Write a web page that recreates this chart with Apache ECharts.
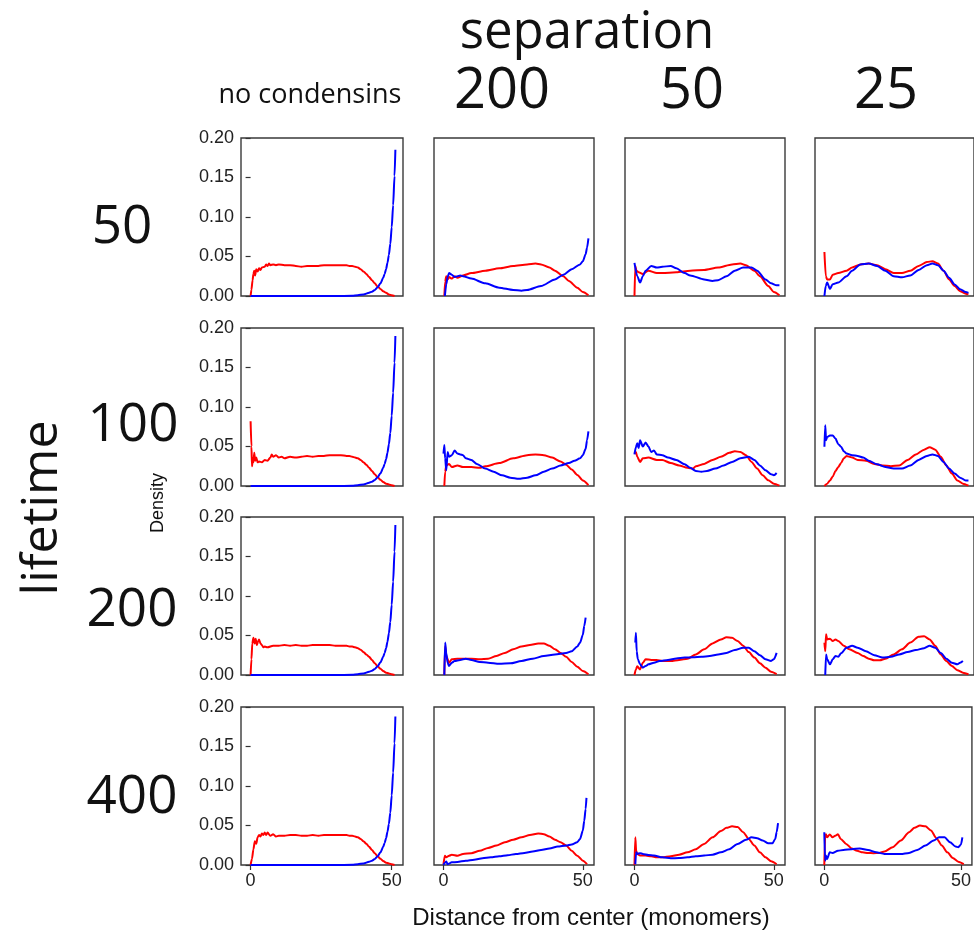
<!DOCTYPE html>
<html>
<head>
<meta charset="utf-8">
<script src="https://cdn.jsdelivr.net/npm/echarts@6/dist/echarts.min.js"></script>
<style>
html,body{margin:0;padding:0;background:#fff;}
#chart{width:974px;height:934px;}
</style>
</head>
<body>
<div id="chart"></div>
<script>
// ---- labels ----
const lifetimes = ['50', '100', '200', '400'];
const separations = ['no condensins', '200', '50', '25'];
const xTicks = [0, 50];
const yTickStep = 0.05;

// ---- data: [distance, density] ----
// lifetime 50
const red_50_none = [[0,0],[0.3,0.008],[0.7,0.02],[1,0.028],[1.3,0.032],[1.6,0.026],[2,0.034],[2.5,0.031],[3,0.035],[3.5,0.033],[4,0.036],[5,0.037],[5.5,0.040],[6,0.038],[6.5,0.041],[7,0.039],[8,0.040],[9,0.039],[10,0.040],[12,0.039],[14,0.039],[16,0.038],[18,0.037],[20,0.038],[22,0.038],[24,0.038],[26,0.039],[28,0.039],[30,0.039],[32,0.039],[34,0.039],[35,0.038],[36,0.038],[37,0.037],[38,0.036],[39,0.034],[40,0.031],[41,0.028],[42,0.024],[43,0.020],[44,0.016],[45,0.012],[46,0.009],[47,0.006],[48,0.004],[49,0.002],[50,0.001],[51,0]];
const blue_50_none = [[0,0],[10,0],[20,0],[30,0],[36,0.0003],[38,0.001],[40,0.002],[42,0.004],[43,0.0055],[44,0.0075],[45,0.011],[46,0.016],[47,0.023],[47.5,0.028],[48,0.034],[48.5,0.042],[49,0.052],[49.5,0.066],[50,0.087],[50.5,0.115],[51,0.152],[51.3,0.185]];
const red_50_200 = [[0.3,0],[0.6,0.018],[1,0.025],[1.5,0.021],[2,0.024],[3,0.022],[4,0.025],[5,0.023],[7,0.026],[10,0.029],[15,0.032],[20,0.035],[25,0.038],[30,0.040],[33,0.041],[35,0.040],[38,0.036],[40,0.032],[43,0.025],[45,0.019],[48,0.0105],[50,0.005],[52,0.001]];
const blue_50_200 = [[0.5,0],[1,0.015],[1.5,0.024],[2,0.029],[3,0.027],[4,0.024],[5,0.025],[6,0.026],[7,0.025],[10,0.022],[15,0.016],[20,0.0105],[25,0.0076],[28,0.0067],[30,0.0076],[35,0.0126],[40,0.021],[43,0.027],[46,0.034],[49,0.040],[50,0.044],[51,0.053],[51.5,0.061],[52,0.073]];
const red_50_50 = [[0,0],[0.3,0.038],[0.7,0.032],[1.5,0.030],[3,0.028],[5,0.032],[8,0.029],[10,0.029],[15,0.030],[20,0.032],[25,0.033],[30,0.036],[35,0.040],[38,0.041],[40,0.039],[43,0.032],[45,0.025],[48,0.0126],[50,0.005],[52,0.001]];
const blue_50_50 = [[0,0.042],[1,0.025],[2,0.017],[3,0.025],[4,0.032],[6,0.038],[8,0.036],[10,0.037],[13,0.038],[15,0.035],[18,0.029],[20,0.026],[25,0.021],[28,0.019],[30,0.020],[33,0.025],[36,0.032],[39,0.036],[42,0.036],[44,0.032],[47,0.021],[49,0.016],[51,0.0135],[52,0.0135]];
const red_50_25 = [[0,0.0556],[0.5,0.025],[1,0.021],[2,0.021],[3,0.027],[5,0.029],[8,0.032],[10,0.036],[13,0.040],[16,0.041],[19,0.039],[22,0.034],[25,0.029],[28,0.029],[31,0.032],[34,0.038],[37,0.043],[39,0.044],[41,0.041],[43,0.032],[45,0.021],[47,0.0126],[49,0.006],[51,0.003],[52,0.002]];
const blue_50_25 = [[0,0],[0.5,0.013],[1,0.017],[2,0.009],[3,0.015],[5,0.017],[8,0.025],[10,0.032],[13,0.040],[16,0.041],[19,0.038],[22,0.032],[25,0.025],[28,0.0236],[31,0.026],[34,0.033],[37,0.039],[39,0.041],[41,0.039],[43,0.032],[45,0.023],[47,0.0147],[49,0.0084],[51,0.005],[52,0.004]];
// lifetime 100
const red_100_none = [[0,0.082],[0.3,0.05],[0.5,0.025],[0.8,0.035],[1,0.03],[1.3,0.042],[1.6,0.032],[2,0.036],[2.5,0.03],[3,0.031],[4,0.030],[5,0.033],[6,0.032],[7,0.036],[7.5,0.040],[8,0.037],[9,0.039],[10,0.036],[11,0.037],[12,0.035],[14,0.037],[16,0.036],[18,0.037],[20,0.038],[22,0.037],[24,0.038],[26,0.038],[28,0.039],[30,0.039],[32,0.039],[34,0.038],[35,0.038],[36,0.037],[37,0.036],[38,0.035],[39,0.033],[40,0.030],[41,0.027],[42,0.023],[43,0.019],[44,0.015],[45,0.011],[46,0.008],[47,0.005],[48,0.003],[49,0.002],[50,0.001],[51,0]];
const blue_100_none = [[0,0],[10,0],[20,0],[30,0],[36,0.0003],[38,0.001],[40,0.002],[42,0.004],[43,0.0055],[44,0.0075],[45,0.011],[46,0.016],[47,0.023],[47.5,0.028],[48,0.034],[48.5,0.042],[49,0.053],[49.5,0.067],[50,0.089],[50.5,0.118],[51,0.156],[51.3,0.19]];
const red_100_200 = [[0.3,0],[0.6,0.018],[1,0.026],[2,0.028],[3,0.024],[5,0.026],[7,0.024],[10,0.024],[13,0.023],[15,0.025],[20,0.029],[25,0.035],[30,0.039],[33,0.040],[36,0.039],[39,0.036],[42,0.031],[44,0.027],[46,0.021],[48,0.014],[50,0.007],[52,0.001]];
const blue_100_200 = [[0,0.041],[0.3,0.052],[0.6,0.035],[1,0.020],[1.5,0.043],[2,0.037],[3,0.039],[4,0.045],[5,0.041],[6,0.040],[7,0.039],[8,0.035],[10,0.033],[12,0.028],[15,0.022],[18,0.018],[21,0.0135],[24,0.0106],[27,0.0093],[30,0.0106],[33,0.0135],[36,0.018],[39,0.022],[42,0.026],[45,0.029],[47,0.032],[49,0.035],[50,0.039],[51,0.047],[51.5,0.058],[52,0.069]];
const red_100_50 = [[0,0.041],[0.5,0.043],[1,0.037],[2,0.0305],[3,0.035],[5,0.036],[8,0.033],[10,0.033],[13,0.029],[16,0.026],[19,0.023],[21,0.022],[22,0.025],[25,0.028],[28,0.033],[31,0.037],[34,0.042],[36,0.044],[38,0.043],[40,0.039],[42,0.0305],[44,0.022],[46,0.0136],[48,0.0072],[50,0.003],[52,0.0005]];
const blue_100_50 = [[0,0.040],[0.5,0.049],[1,0.054],[1.5,0.048],[2,0.058],[3,0.050],[4,0.055],[5,0.050],[6,0.043],[7,0.045],[8,0.040],[10,0.039],[12,0.036],[15,0.033],[18,0.0275],[20,0.023],[22,0.019],[24,0.018],[26,0.019],[29,0.022],[32,0.026],[35,0.0305],[38,0.035],[41,0.037],[43,0.033],[45,0.026],[47,0.020],[49,0.015],[50,0.0136],[51,0.0165]];
const red_100_25 = [[0,0],[1,0.003],[2,0.007],[3,0.012],[4,0.019],[5,0.024],[6,0.029],[7,0.035],[8,0.038],[9,0.037],[10,0.036],[12,0.033],[15,0.032],[18,0.028],[21,0.026],[24,0.025],[27,0.026],[30,0.033],[33,0.040],[36,0.046],[38,0.049],[40,0.046],[42,0.037],[44,0.026],[46,0.0157],[48,0.007],[50,0.003],[52,0.0005]];
const blue_100_25 = [[0,0.0496],[0.3,0.077],[0.6,0.058],[1,0.062],[2,0.064],[3,0.064],[4,0.060],[5,0.053],[6,0.0496],[7,0.044],[8,0.041],[10,0.039],[12,0.038],[14,0.036],[16,0.032],[19,0.0275],[22,0.024],[25,0.022],[28,0.022],[31,0.026],[34,0.033],[37,0.038],[39,0.040],[41,0.038],[43,0.0305],[45,0.022],[47,0.0157],[49,0.0106],[51,0.007],[52,0.007]];
// lifetime 200
const red_200_none = [[0,0],[0.3,0.02],[0.6,0.04],[1,0.047],[1.4,0.040],[1.8,0.046],[2.2,0.038],[2.6,0.042],[3,0.045],[3.5,0.040],[4,0.038],[4.5,0.035],[5,0.036],[6,0.035],[8,0.037],[10,0.037],[12,0.038],[14,0.037],[16,0.038],[18,0.037],[20,0.037],[22,0.038],[24,0.038],[26,0.038],[28,0.038],[30,0.037],[32,0.037],[34,0.037],[35,0.036],[36,0.036],[37,0.035],[38,0.034],[39,0.032],[40,0.029],[41,0.026],[42,0.023],[43,0.019],[44,0.015],[45,0.011],[46,0.008],[47,0.005],[48,0.003],[49,0.002],[50,0.001],[51,0]];
const blue_200_none = [[0,0],[10,0],[20,0],[30,0],[36,0.0003],[38,0.001],[40,0.002],[42,0.004],[43,0.0055],[44,0.0075],[45,0.011],[46,0.016],[47,0.023],[47.5,0.028],[48,0.034],[48.5,0.042],[49,0.053],[49.5,0.067],[50,0.089],[50.5,0.118],[51,0.156],[51.3,0.19]];
const red_200_200 = [[0.3,0],[0.6,0.037],[1,0.024],[2,0.0156],[3,0.020],[5,0.0207],[8,0.0207],[10,0.0207],[13,0.020],[16,0.0207],[19,0.024],[22,0.028],[25,0.0325],[28,0.036],[31,0.038],[34,0.040],[36,0.0398],[38,0.037],[40,0.0325],[42,0.028],[44,0.023],[46,0.0165],[48,0.0105],[50,0.005],[52,0.001]];
const blue_200_200 = [[0.3,0],[0.6,0.041],[1,0.028],[1.5,0.0156],[2,0.0114],[3,0.0156],[4,0.0177],[6,0.019],[8,0.0207],[10,0.019],[13,0.0165],[16,0.0156],[20,0.0143],[24,0.0148],[28,0.0177],[32,0.0207],[36,0.024],[40,0.026],[44,0.028],[46,0.030],[48,0.036],[49,0.041],[50,0.051],[50.5,0.062],[51,0.0726]];
const red_200_50 = [[0,0],[0.5,0.007],[1,0.011],[2,0.007],[3,0.0156],[4,0.020],[6,0.019],[8,0.019],[10,0.0177],[13,0.0177],[16,0.019],[19,0.0207],[22,0.026],[25,0.0325],[28,0.040],[31,0.045],[33,0.0477],[35,0.047],[37,0.043],[39,0.037],[41,0.029],[43,0.022],[45,0.0148],[47,0.0093],[49,0.004],[51,0.001]];
const blue_200_50 = [[0.3,0.041],[0.5,0.0536],[0.8,0.030],[1.2,0.020],[2,0.0135],[3,0.0093],[4,0.0114],[5,0.0135],[7,0.0156],[9,0.0177],[12,0.019],[15,0.021],[18,0.022],[21,0.0224],[24,0.023],[27,0.024],[30,0.026],[33,0.028],[36,0.0316],[39,0.0346],[41,0.0346],[43,0.030],[45,0.025],[47,0.020],[49,0.0177],[50,0.020],[51,0.028]];
const red_200_25 = [[0,0.041],[0.3,0.030],[0.6,0.0515],[1,0.045],[2,0.046],[3,0.043],[4,0.045],[5,0.043],[7,0.037],[9,0.0325],[12,0.028],[14,0.024],[16,0.0207],[18,0.0186],[20,0.0186],[22,0.0207],[25,0.026],[28,0.0325],[31,0.041],[34,0.0485],[36,0.049],[38,0.045],[40,0.037],[42,0.026],[44,0.0177],[46,0.0114],[48,0.006],[50,0.003],[52,0.001]];
const blue_200_25 = [[0.3,0],[0.6,0.026],[1,0.020],[2,0.0135],[3,0.020],[4,0.024],[5,0.023],[6,0.0274],[8,0.0346],[10,0.037],[12,0.0346],[15,0.030],[18,0.025],[21,0.022],[24,0.023],[27,0.026],[30,0.029],[33,0.0316],[36,0.034],[38,0.037],[40,0.0346],[42,0.028],[44,0.0207],[46,0.0156],[48,0.0135],[49,0.0156],[50,0.0177]];
// lifetime 400
const red_400_none = [[0,0],[0.5,0.008],[1,0.02],[1.5,0.03],[2,0.027],[2.5,0.035],[3,0.038],[3.5,0.036],[4,0.040],[4.5,0.038],[5,0.041],[5.5,0.038],[6,0.041],[7,0.037],[8,0.039],[9,0.036],[10,0.037],[12,0.037],[14,0.038],[16,0.038],[18,0.037],[20,0.037],[22,0.038],[24,0.037],[26,0.038],[28,0.038],[30,0.038],[32,0.038],[34,0.038],[35,0.037],[36,0.037],[37,0.036],[38,0.035],[39,0.033],[40,0.030],[41,0.027],[42,0.023],[43,0.019],[44,0.015],[45,0.011],[46,0.008],[47,0.005],[48,0.003],[49,0.002],[50,0.001],[51,0]];
const blue_400_none = [[0,0],[10,0],[20,0],[30,0],[36,0.0003],[38,0.001],[40,0.002],[42,0.004],[43,0.0055],[44,0.0075],[45,0.011],[46,0.016],[47,0.023],[47.5,0.028],[48,0.034],[48.5,0.042],[49,0.052],[49.5,0.066],[50,0.088],[50.5,0.117],[51,0.154],[51.3,0.188]];
const red_400_200 = [[0,0.001],[0.5,0.0117],[1,0.0097],[2,0.0117],[3,0.013],[5,0.0117],[7,0.014],[10,0.015],[13,0.018],[16,0.0216],[19,0.0246],[22,0.0288],[25,0.032],[28,0.035],[31,0.038],[34,0.040],[36,0.039],[38,0.036],[40,0.032],[42,0.0288],[44,0.0246],[46,0.018],[48,0.0117],[50,0.0055],[51.5,0.001]];
const blue_400_200 = [[0,0],[0.5,0.003],[1,0.0045],[1.5,0.001],[3,0.0034],[5,0.0038],[8,0.0055],[11,0.0068],[14,0.0085],[17,0.0097],[20,0.011],[23,0.0123],[26,0.014],[29,0.0153],[32,0.017],[35,0.019],[38,0.021],[41,0.0233],[44,0.0246],[46,0.026],[48,0.0288],[49,0.033],[50,0.0436],[50.5,0.056],[51,0.071],[51.3,0.085]];
const red_400_50 = [[0,0],[0.3,0.035],[0.6,0.018],[1,0.014],[2,0.0119],[4,0.0119],[6,0.011],[8,0.0097],[10,0.0097],[13,0.011],[16,0.013],[19,0.016],[22,0.020],[25,0.0267],[28,0.035],[31,0.043],[33,0.047],[35,0.049],[37,0.048],[39,0.0415],[41,0.033],[43,0.0246],[45,0.016],[47,0.0097],[49,0.0047],[51,0.001]];
const blue_400_50 = [[0.3,0.001],[0.6,0.016],[1,0.014],[2,0.015],[3,0.014],[5,0.0127],[7,0.012],[10,0.0097],[13,0.0085],[16,0.0089],[19,0.0097],[22,0.011],[25,0.012],[28,0.013],[31,0.016],[34,0.020],[37,0.0267],[40,0.032],[42,0.035],[44,0.034],[46,0.031],[48,0.0275],[49.5,0.0275],[50.5,0.033],[51,0.0415],[51.5,0.053]];
const red_400_25 = [[0,0],[0.3,0.035],[0.6,0.039],[1,0.035],[2,0.0386],[3,0.035],[4,0.037],[5,0.039],[6,0.033],[8,0.0267],[10,0.021],[12,0.018],[14,0.016],[16,0.0153],[18,0.015],[20,0.0153],[22,0.017],[25,0.0225],[28,0.031],[31,0.0415],[33,0.047],[35,0.050],[37,0.049],[39,0.0436],[41,0.034],[43,0.0246],[45,0.016],[47,0.0089],[49,0.0042],[51,0.001]];
const blue_400_25 = [[0,0.0415],[0.3,0.0055],[0.6,0.012],[1,0.0076],[2,0.016],[3,0.0153],[5,0.018],[7,0.019],[10,0.020],[13,0.021],[16,0.019],[19,0.016],[22,0.014],[25,0.014],[28,0.014],[31,0.0153],[34,0.019],[37,0.0246],[40,0.031],[42,0.035],[44,0.035],[46,0.0288],[48,0.0233],[49,0.0225],[50,0.026],[50.5,0.035]];

const redData = [
  [red_50_none, red_50_200, red_50_50, red_50_25],
  [red_100_none, red_100_200, red_100_50, red_100_25],
  [red_200_none, red_200_200, red_200_50, red_200_25],
  [red_400_none, red_400_200, red_400_50, red_400_25]
];
const blueData = [
  [blue_50_none, blue_50_200, blue_50_50, blue_50_25],
  [blue_100_none, blue_100_200, blue_100_50, blue_100_25],
  [blue_200_none, blue_200_200, blue_200_50, blue_200_25],
  [blue_400_none, blue_400_200, blue_400_50, blue_400_25]
];

// ---- layout ----
const colLeft = [241, 434, 625, 815];
const colWidth = [162, 160, 160, 159];
const rowTop = [138, 328, 517, 707];
const panelH = 158;
const tickFont = 'Liberation Sans, Arial, sans-serif';
const bigFont = '"Open Sans", "Noto Sans", sans-serif';

const grids = [], xAxes = [], yAxes = [], series = [];
for (let r = 0; r < 4; r++) {
  for (let c = 0; c < 4; c++) {
    const i = r * 4 + c;
    grids.push({left: colLeft[c], top: rowTop[r], width: colWidth[c], height: panelH,
      show: true, borderColor: '#3a3a3a', borderWidth: 1.4, backgroundColor: 'rgba(0,0,0,0)'});
    xAxes.push({type: 'value', gridIndex: i, min: -3.4, max: 54,
      splitLine: {show: false}, axisLine: {show: false},
      axisTick: {show: r === 3, customValues: xTicks, length: 5, lineStyle: {color: '#333', width: 1.2}},
      axisLabel: {show: r === 3, customValues: xTicks, fontSize: 18, color: '#222', fontFamily: tickFont, margin: 7}
    });
    yAxes.push({type: 'value', gridIndex: i, min: 0, max: 0.2, interval: yTickStep,
      splitLine: {show: false}, axisLine: {show: false},
      axisTick: {show: c === 0, length: 5, lineStyle: {color: '#333', width: 1.2}},
      axisLabel: {show: c === 0, fontSize: 18, color: '#222', fontFamily: tickFont, margin: 7,
        formatter: v => v.toFixed(2)}
    });
    series.push({type: 'line', xAxisIndex: i, yAxisIndex: i, data: redData[r][c],
      showSymbol: false, symbol: 'none', smooth: 0.25, smoothMonotone: 'x',
      lineStyle: {color: '#ff0000', width: 2}, silent: true, animation: false});
    series.push({type: 'line', xAxisIndex: i, yAxisIndex: i, data: blueData[r][c],
      showSymbol: false, symbol: 'none', smooth: 0.25, smoothMonotone: 'x',
      lineStyle: {color: '#0000ff', width: 2}, silent: true, animation: false});
  }
}

function txt(text, x, y, size, family, opts) {
  opts = opts || {};
  return {type: 'text', x: x, y: y, rotation: opts.rotation || 0, silent: true,
    style: {text: text, x: 0, y: 0, fontSize: size, fontFamily: family, fill: '#111',
      textAlign: 'center', textVerticalAlign: 'middle'}};
}

const graphics = [
  txt('separation', 587, 33, 51, bigFont),
  txt(separations[0], 310, 95, 27, bigFont),
  txt(separations[1], 502, 92, 56, bigFont),
  txt(separations[2], 692, 92, 56, bigFont),
  txt(separations[3], 886, 92, 56, bigFont),
  txt(lifetimes[0], 122, 228, 53, bigFont),
  txt(lifetimes[1], 133, 426, 53, bigFont),
  txt(lifetimes[2], 132, 611, 53, bigFont),
  txt(lifetimes[3], 132, 798, 53, bigFont),
  txt('lifetime', 43, 508, 50, bigFont, {rotation: Math.PI / 2}),
  txt('Density', 158, 503, 18, tickFont, {rotation: Math.PI / 2}),
  txt('Distance from center (monomers)', 591, 918, 24, tickFont)
];

const chart = echarts.init(document.getElementById('chart'), null, {renderer: 'canvas'});
chart.setOption({
  animation: false,
  backgroundColor: '#ffffff',
  grid: grids, xAxis: xAxes, yAxis: yAxes, series: series,
  graphic: graphics
});
</script>
</body>
</html>
